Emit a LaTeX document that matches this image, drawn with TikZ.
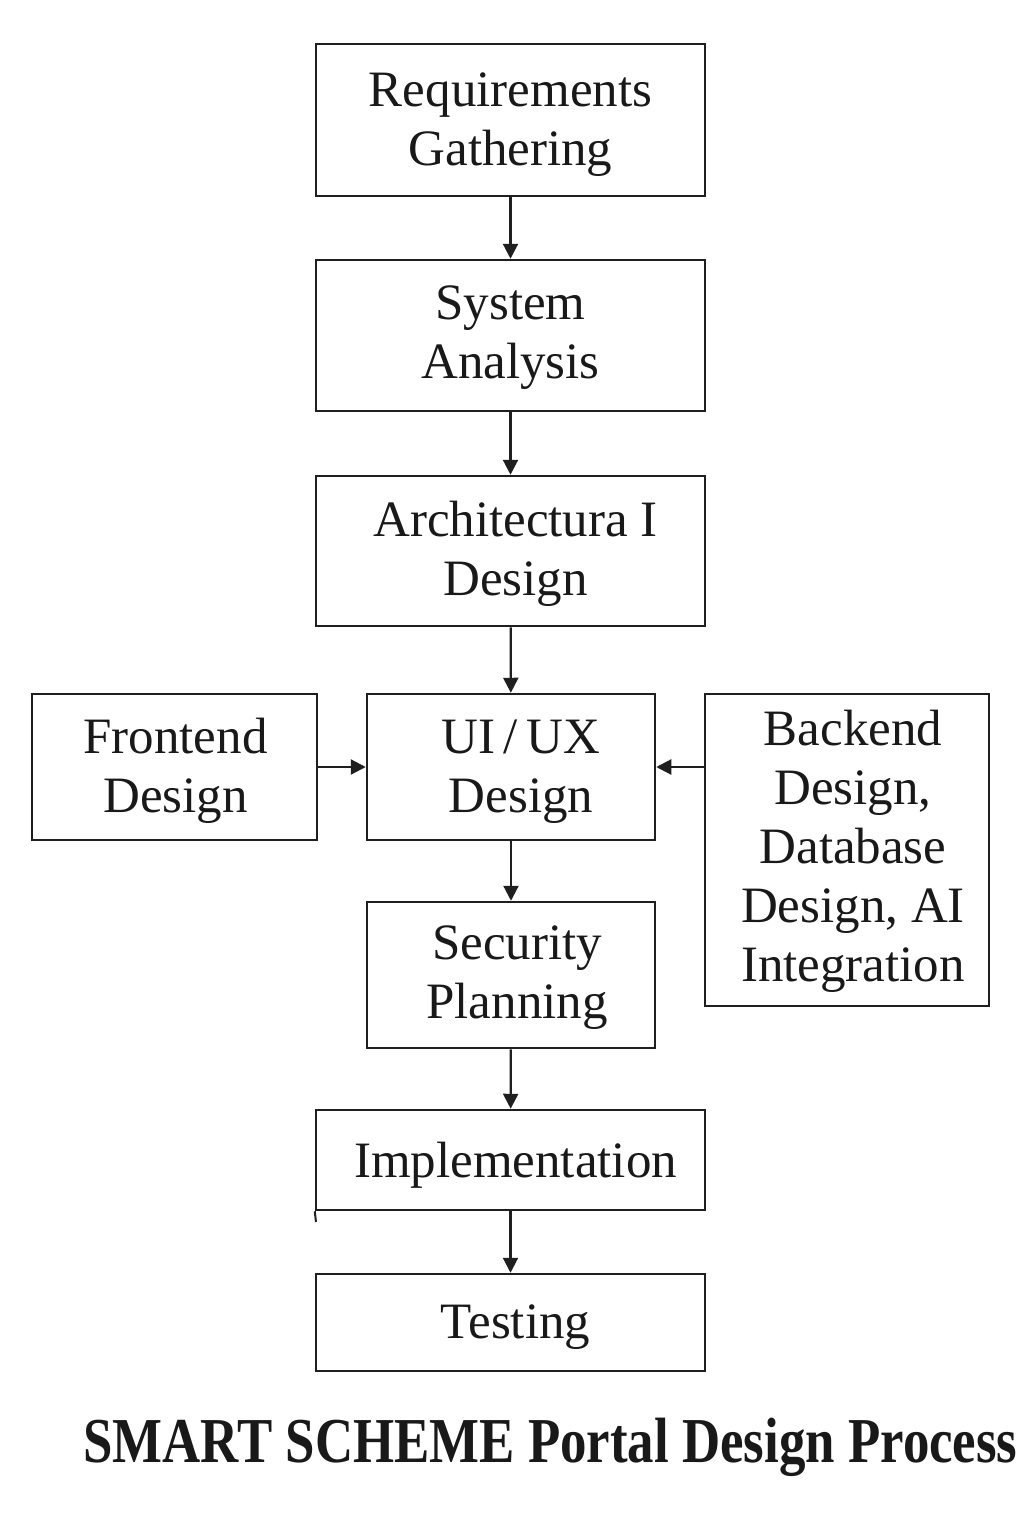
\documentclass[tikz,border=0pt]{standalone}
\usepackage{fontspec}
\setmainfont{Liberation Serif}
\usetikzlibrary{arrows.meta}
\begin{document}
\begin{tikzpicture}[x=0.5pt,y=-0.5pt,
  box/.style={draw=black!88, line width=1.25pt, inner sep=0pt},
  txt/.style={inner sep=0pt, align=center, font=\fontsize{25.5}{29.5}\selectfont, text=black!90},
  arr/.style={draw=black!88, -{Triangle[length=7.5pt,width=7.5pt]}, line width=1.1pt}]
\useasboundingbox[fill=white] (0,0) rectangle (1024,1536);
% boxes
\node[box, minimum width=194.5pt, minimum height=76pt] (req) at (510.5,120) {};
\node[box, minimum width=194.5pt, minimum height=75.5pt] (sys) at (510.5,335.5) {};
\node[box, minimum width=194.5pt, minimum height=75pt] (arch) at (510.5,551) {};
\node[box, minimum width=144pt, minimum height=73pt] (ui) at (511,767) {};
\node[box, minimum width=142.5pt, minimum height=73pt] (front) at (174.5,767) {};
\node[box, minimum width=142pt, minimum height=156pt] (back) at (847,850) {};
\node[box, minimum width=144pt, minimum height=73pt] (sec) at (511,975) {};
\node[box, minimum width=194.5pt, minimum height=50pt] (impl) at (510.5,1160) {};
\node[box, minimum width=194.5pt, minimum height=48.5pt] (test) at (510.5,1322.5) {};
% texts
\node[txt] (req-t) at ([yshift=-2.5pt]req.center) {Requirements\\Gathering};
\node[txt] (sys-t) at ([yshift=-1pt]sys.center) {System\\Analysis};
\node[txt] (arch-t) at ([xshift=2.5pt,yshift=-1.5pt]arch.center) {Architectura I\\Design};
\node[txt] (ui-t) at ([xshift=5pt,yshift=-2.5pt]ui.center) {UI\thinspace/\thinspace UX\\Design};
\node[txt] (front-t) at ([xshift=0.5pt,yshift=-2pt]front.center) {Frontend\\Design};
\node[txt] (back-t) at ([xshift=3pt,yshift=-0.5pt]back.center) {Backend\\Design,\\Database\\Design, AI\\Integration};
\node[txt] (sec-t) at ([xshift=3pt,yshift=-1.5pt]sec.center) {Security\\Planning};
\node[txt] (impl-t) at ([xshift=2.5pt,yshift=-2.5pt]impl.center) {Implementation};
\node[txt] (test-t) at ([xshift=2.5pt,yshift=-2.5pt]test.center) {Testing};
\node[inner sep=0pt, text=black!90, font=\bfseries\fontsize{32}{36}\selectfont] (title) at (550.5,1447.5)
  {\scalebox{0.826}[1]{SMART SCHEME Portal Design Process}};
% connectors
\draw[arr] (req) -- (sys);
\draw[arr] (sys) -- (arch);
\draw[arr] (arch) -- (ui);
\draw[arr] (front) -- (ui);
\draw[arr] (back.west |- ui.east) -- (ui.east);
\draw[arr] (ui) -- (sec);
\draw[arr] (sec) -- (impl);
\draw[arr] (impl) -- (test);
\coordinate (tick) at (316,1222);
\draw[draw=black!88, line width=1pt] (impl.south west) -- (tick);
\end{tikzpicture}
\end{document}
